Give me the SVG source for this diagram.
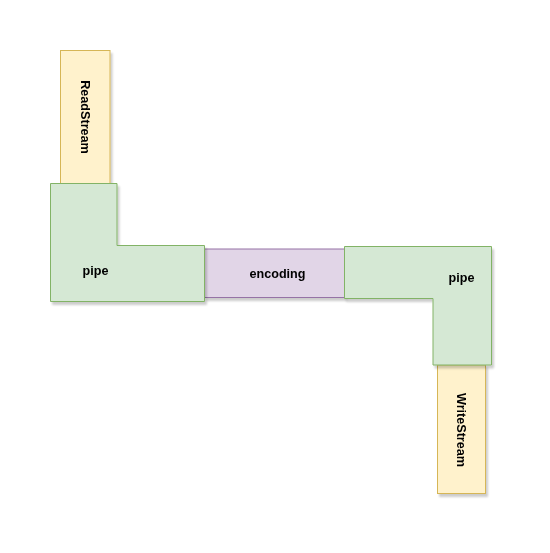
<svg xmlns="http://www.w3.org/2000/svg" width="550" height="553" viewBox="0 0 550 553">
<defs>
<filter id="sh" x="-20%" y="-20%" width="140%" height="140%">
<feGaussianBlur in="SourceAlpha" stdDeviation="1.2"/>
<feOffset dx="2" dy="3" result="b"/>
<feComponentTransfer><feFuncA type="linear" slope="0.2"/></feComponentTransfer>
<feMerge><feMergeNode/><feMergeNode in="SourceGraphic"/></feMerge>
</filter>
<style>
.y{fill:#fff2cc;stroke:#d6b656;stroke-width:1}
.g{fill:#d5e8d4;stroke:#82b366;stroke-width:1}
.p{fill:#e1d5e7;stroke:#9673a6;stroke-width:1}
text{font-family:"Liberation Sans",Arial,sans-serif;font-size:12.6px;font-weight:bold;fill:#000;text-anchor:middle;dominant-baseline:central}
</style>
</defs>
<rect width="550" height="553" fill="#fff"/>
<g id="readstream" filter="url(#sh)">
<rect class="y" x="60.5" y="50.5" width="49.5" height="133"/>
<text transform="translate(85,117) rotate(90)">ReadStream</text>
</g>
<g id="writestream" filter="url(#sh)">
<rect class="y" x="437.5" y="365" width="48" height="128.5"/>
<text transform="translate(461,430) rotate(90)">WriteStream</text>
</g>
<g id="encoding" filter="url(#sh)">
<rect class="p" x="204.5" y="249" width="140" height="48.5"/>
<text x="277.5" y="274">encoding</text>
</g>
<g id="pipe1" filter="url(#sh)">
<path class="g" d="M50.5 183.5 H117 V245.5 H204.5 V301.5 H50.5 Z"/>
<text x="95.5" y="271">pipe</text>
</g>
<g id="pipe2" filter="url(#sh)">
<path class="g" d="M344.5 246.5 H491.5 V365 H433 V298.5 H344.5 Z"/>
<text x="461.5" y="278">pipe</text>
</g>
<g id="connectors"/>
</svg>
